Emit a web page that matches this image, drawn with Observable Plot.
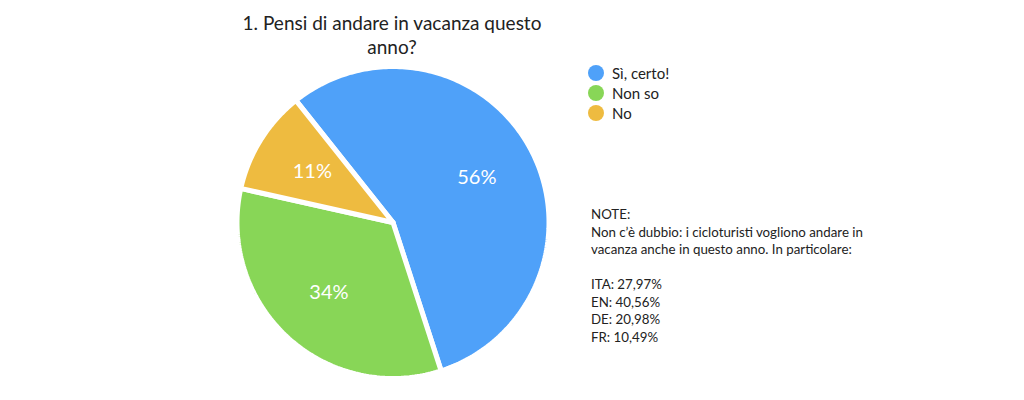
<!DOCTYPE html>
<html>
<head>
<meta charset="utf-8">
<script src="https://cdn.jsdelivr.net/npm/d3@7"></script>
<script src="https://cdn.jsdelivr.net/npm/@observablehq/plot@0.6"></script>
<style>
  html, body { margin: 0; padding: 0; background: #fff; }
  body { width: 1024px; height: 400px; position: relative; overflow: hidden; font-family: Lato, "Noto Sans", sans-serif; color: #222; }
  #chart { position: absolute; left: 0; top: 0; }
  #title { position: absolute; left: 232px; width: 320px; top: 11px; text-align: center; font-size: 19px; line-height: 24px; }
  #legend { position: absolute; left: 588px; top: 63px; font-size: 15px; line-height: 20px; }
  #legend .item { display: flex; align-items: center; height: 20px; }
  #legend .sw { width: 16px; height: 16px; border-radius: 50%; margin-right: 8px; }
  #notes { position: absolute; left: 591px; top: 206px; font-size: 13.3px; line-height: 17.5px; white-space: pre; }
</style>
</head>
<body>
<div id="chart"></div>
<div id="title">1. Pensi di andare in vacanza questo anno?</div>
<div id="legend"></div>
<div id="notes"></div>
<script>
const categories = ["Sì, certo!", "Non so", "No"];
const shares = [55.7, 33.5, 10.8];
const percentLabels = ["56%", "34%", "11%"];
const colors = ["#4fa1f9", "#88d657", "#eebb40"];
const noteLines = [
  "NOTE:",
  "Non c’è dubbio: i cicloturisti vogliono andare in",
  "vacanza anche in questo anno. In particolare:",
  "",
  "ITA: 27,97%",
  "EN: 40,56%",
  "DE: 20,98%",
  "FR: 10,49%"
];

const startDeg = -38.5;
const start = startDeg * Math.PI / 180;
const arcs = d3.pie().sort(null).startAngle(start).endAngle(start + 2 * Math.PI)(shares);

const polyPts = [];
arcs.forEach((a, i) => {
  const cat = categories[i];
  polyPts.push({cat, x: 0, y: 0});
  const n = Math.max(2, Math.ceil((a.endAngle - a.startAngle) / (Math.PI / 180)));
  for (let k = 0; k <= n; k++) {
    const t = a.startAngle + (a.endAngle - a.startAngle) * k / n;
    polyPts.push({cat, x: Math.sin(t), y: Math.cos(t)});
  }
  polyPts.push({cat, x: 0, y: 0});
});

const labelPts = arcs.map((a, i) => {
  const m = (a.startAngle + a.endAngle) / 2;
  return {text: percentLabels[i], x: 0.61 * Math.sin(m), y: 0.61 * Math.cos(m)};
});

const cx = 392.5, cy = 222, r = 156;
const chart = Plot.plot({
  width: 1024,
  height: 400,
  margin: 0,
  x: {domain: [-1, 1], range: [cx - r, cx + r], axis: null},
  y: {domain: [-1, 1], range: [cy + r, cy - r], axis: null},
  color: {domain: categories, range: colors},
  style: {fontFamily: "Lato, 'Noto Sans', sans-serif", background: "transparent"},
  marks: [
    Plot.line(polyPts, {x: "x", y: "y", z: "cat", fill: "cat", stroke: "white", strokeWidth: 5, strokeLinejoin: "miter", curve: "linear"}),
    Plot.text(labelPts, {x: "x", y: "y", text: "text", fill: "white", fontSize: 20})
  ]
});
document.getElementById("chart").appendChild(chart);

const legend = document.getElementById("legend");
categories.forEach((c, i) => {
  const item = document.createElement("div");
  item.className = "item";
  const sw = document.createElement("span");
  sw.className = "sw";
  sw.style.background = colors[i];
  const t = document.createElement("span");
  t.textContent = c;
  item.appendChild(sw);
  item.appendChild(t);
  legend.appendChild(item);
});
document.getElementById("notes").textContent = noteLines.join("\n");
</script>
</body>
</html>
